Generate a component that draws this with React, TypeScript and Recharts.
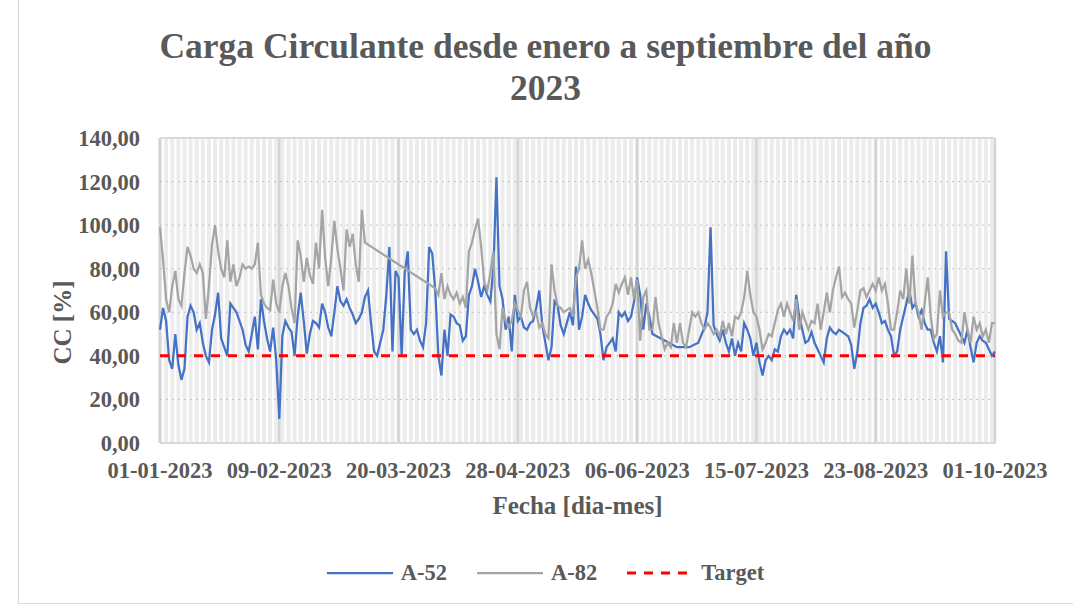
import React from 'react';
import { LineChart, Line, XAxis, YAxis, CartesianGrid, ReferenceLine, Legend } from 'recharts';

const FONT = '"Liberation Serif", "Times New Roman", serif';
const TEXT = '#595959';

// Eje X: días desde 01-01-2023, una etiqueta cada 39 días
const tickDays = [0, 39, 78, 117, 156, 195, 234, 273];
const tickLabels = ['01-01-2023', '09-02-2023', '20-03-2023', '28-04-2023', '06-06-2023', '15-07-2023', '23-08-2023', '01-10-2023'];
const yTicks = [0, 20, 40, 60, 80, 100, 120, 140];
const target = 40;

// Carga circulante diaria A-52 [%]
const a52: (number | null)[] = [
  52, 62, 56, 38, 34, 50, 36, 29, 34, 58,
  63, 60, 52, 55, 46, 40, 37, 52, 59, 69,
  48, 44, 40, 64, 62, 60, 56, 52, 45, 42,
  50, 58, 43, 66, 56, 48, 42, 53, 38, 11,
  49, 56, 53, 51, 40, 58, 69, 56, 41, 50,
  56, 55, 53, 64, 60, 53, 49, 60, 72, 65,
  63, 66, 62, 59, 55, 57, 60, 67, 70, 55,
  42, 40, 46, 52, 68, 90, 42, 79, 76, 40,
  78, 88, 52, 50, 52, 47, 44, 55, 90, 87,
  70, 40, 31, 52, 40, 59, 58, 55, 54, 47,
  49, 68, 72, 80, 74, 67, 72, 68, 65, 80,
  122, 72, 66, 52, 58, 42, 68, 56, 58, 53,
  52, 55, 56, 62, 70, 54, 46, 38, 44, 65,
  63, 54, 50, 55, 60, 54, 81, 52, 58, 68,
  64, 61, 59, 57, 50, 38, 44, 46, 48, 42,
  60, 58, 60, 56, 58, 65, 76, 68, 52, 64,
  58, 50, null, null, null, 47, null, null, null, 44,
  null, null, null, 44, null, null, 46, null, 53, 60,
  99, 54, 50, 47, 52, 46, 42, 48, 40, 46,
  42, 55, 52, 48, 40, 46, 37, 31, 38, 40,
  38, 43, 42, 49, 52, 50, 52, 48, 68, 58,
  52, 46, 47, 51, 46, 43, 40, 37, 48, 53,
  51, 50, 52, 51, 50, 49, 45, 34, 42, 55,
  62, 63, 66, 62, 64, 60, 55, 56, 52, 49,
  40, 42, 52, 58, 64, 70, 62, 64, 58, 61,
  55, 52, 52, 46, 42, 49, 37, 88, 57, 56,
  55, 52, 49, 46, 52, 44, 37, 46, 49, 47,
  46, 43, 40, 42,
];

// Carga circulante diaria A-82 [%] (sin datos entre marzo y abril)
const a82: (number | null)[] = [
  99, 84, 66, 60, 72, 79, 66, 63, 78, 90,
  86, 80, 78, 82, 78, 57, 72, 91, 100, 88,
  80, 76, 93, 74, 82, 72, 76, 82, 80, 81,
  80, 82, 92, 68, 64, 62, 61, 75, 64, 60,
  72, 78, 72, 62, 55, 93, 86, 74, 85, 77,
  73, 92, 80, 107, 85, 72, 85, 102, 89, 80,
  70, 98, 90, 96, 82, 74, 107, 92, null, null,
  null, null, null, null, null, null, null, null, null, null,
  null, null, null, null, null, null, null, null, null, null,
  71, 68, 78, 66, 72, 68, 66, 69, 64, 67,
  62, 88, 92, 98, 103, 90, 74, 70, 78, 88,
  50, 43, 62, 56, 53, 56, 64, 61, 58, 70,
  74, 62, 58, 60, 53, 55, 50, 48, 82, 70,
  63, 62, 60, 61, 62, 58, 76, 80, 93, 80,
  84, 78, 70, 62, 52, 52, 58, 60, 64, 73,
  69, 73, 76, 68, 76, 66, 75, 47, 67, 70,
  52, 52, 67, 55, 49, 43, 46, 44, 55, 46,
  55, 46, 44, 52, 60, 58, 60, 55, 52, 55,
  53, 50, 52, 49, 56, 50, 55, 49, 58, 57,
  60, 67, 79, 68, 60, 58, 52, 43, 46, 50,
  49, 55, 61, 64, 58, 64, 60, 56, 66, 52,
  60, 56, 52, 56, 55, 64, 52, 60, 69, 60,
  70, 76, 81, 67, 69, 66, 64, 53, 61, 70,
  71, 67, 70, 73, 70, 76, 70, 73, 64, 52,
  52, 60, 70, 66, 80, 64, 86, 64, 60, 52,
  64, 76, 58, 48, 50, 70, 58, 60, 60, 52,
  50, 47, 46, 60, 52, 46, 58, 52, 55, 49,
  52, 46, 55, 55,
];

const chartData = a52.map((v, i) => ({ day: i, a52: v, a82: a82[i] }));
// líneas secundarias cada 2 días
const minorDays = chartData.map((d) => d.day).filter((d) => d % 2 === 0);

const tickStyle = { fill: TEXT, fontSize: 22.5, fontFamily: FONT, fontWeight: 700 };

const formatY = (v: number) => v.toFixed(2).replace('.', ',');
const formatX = (v: number) => tickLabels[tickDays.indexOf(v)] ?? '';

const YTitle = (props: any) => {
  const { viewBox } = props;
  const cx = viewBox.x - 18;
  const cy = viewBox.y + viewBox.height / 2 + 32;
  return (
    <text
      x={cx}
      y={cy}
      transform={`rotate(-90 ${cx} ${cy})`}
      textAnchor="middle"
      dominantBaseline="central"
      fill={TEXT}
      fontSize={25}
      fontWeight={700}
      fontFamily={FONT}
    >
      CC [%]
    </text>
  );
};

const legendItems = [
  { label: 'A-52', color: '#4472C4', dash: undefined },
  { label: 'A-82', color: '#A5A5A5', dash: undefined },
  { label: 'Target', color: '#FF0000', dash: '9 8' },
];

const renderLegend = () => (
  <div style={{ display: 'flex', justifyContent: 'center', alignItems: 'center', height: 40, gap: 30 }}>
    {legendItems.map((it) => (
      <div key={it.label} style={{ display: 'flex', alignItems: 'center', gap: 8 }}>
        <svg width={66} height={10}>
          <line x1={0} y1={5} x2={66} y2={5} stroke={it.color} strokeWidth={it.dash ? 3 : 2.25} strokeDasharray={it.dash} />
        </svg>
        <span style={{ color: TEXT, fontFamily: FONT, fontWeight: 700, fontSize: 22.5 }}>{it.label}</span>
      </div>
    ))}
  </div>
);

export default function App() {
  return (
    <div style={{ position: 'absolute', left: 0, top: 0, width: 1073, height: 607, background: '#fff' }}>
      <div
        style={{
          position: 'absolute',
          left: 18,
          top: 0,
          width: 1054,
          height: 603,
          borderLeft: '1px solid #d9d9d9',
          borderBottom: '1px solid #d9d9d9',
        }}
      />
      <div
        style={{
          position: 'absolute',
          left: 18,
          top: 25,
          width: 1055,
          textAlign: 'center',
          fontFamily: FONT,
          fontWeight: 700,
          fontSize: 35.5,
          lineHeight: '42px',
          color: TEXT,
        }}
      >
        Carga Circulante desde enero a septiembre del año
        <br />
        2023
      </div>
      <LineChart
        width={1073}
        height={607}
        data={chartData}
        margin={{ top: 138, right: 78, bottom: 48, left: 80 }}
        style={{ position: 'absolute', left: 0, top: 0 }}
      >
        <CartesianGrid horizontal={false} verticalValues={minorDays} stroke="#ececec" strokeWidth={4} />
        <CartesianGrid horizontal={false} verticalValues={tickDays} stroke="#d4d4d4" strokeWidth={2.5} />
        <CartesianGrid vertical={false} horizontalValues={yTicks} stroke="#c4c4c4" strokeDasharray="2 4" />
        <CartesianGrid vertical={false} horizontalValues={[140]} stroke="#d9d9d9" strokeWidth={2} />
        <XAxis
          dataKey="day"
          type="number"
          domain={[0, 273]}
          ticks={tickDays}
          interval={0}
          tickFormatter={formatX}
          tick={tickStyle}
          tickLine={false}
          tickSize={0}
          tickMargin={19}
          height={76}
          axisLine={{ stroke: '#d9d9d9', strokeWidth: 2 }}
          label={{
            value: 'Fecha [dia-mes]',
            position: 'insideBottom',
            offset: 5,
            fill: TEXT,
            fontSize: 25,
            fontWeight: 700,
            fontFamily: FONT,
          }}
        />
        <YAxis
          domain={[0, 140]}
          ticks={yTicks}
          interval={0}
          tickFormatter={formatY}
          tick={tickStyle}
          tickLine={false}
          tickSize={0}
          tickMargin={20}
          axisLine={false}
          width={80}
          label={<YTitle />}
        />
        <Line
          type="linear"
          dataKey="a52"
          name="A-52"
          stroke="#4472C4"
          strokeWidth={2.25}
          dot={false}
          activeDot={false}
          connectNulls
          isAnimationActive={false}
        />
        <Line
          type="linear"
          dataKey="a82"
          name="A-82"
          stroke="#A5A5A5"
          strokeWidth={2.25}
          dot={false}
          activeDot={false}
          connectNulls
          isAnimationActive={false}
        />
        <ReferenceLine y={target} stroke="#FF0000" strokeWidth={3} strokeDasharray="9 8" />
        <Legend
          content={renderLegend}
          height={40}
          wrapperStyle={{ left: 18, width: 1055, top: 553, bottom: 'auto' }}
        />
      </LineChart>
    </div>
  );
}
